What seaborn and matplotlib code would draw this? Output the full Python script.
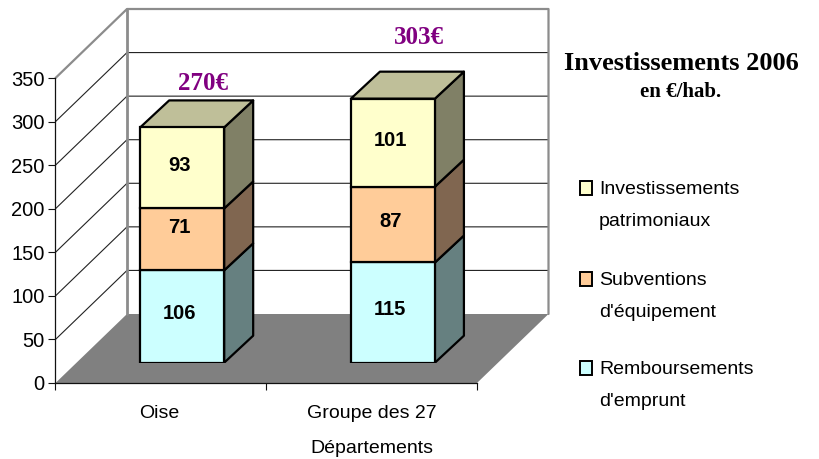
import matplotlib
matplotlib.use("Agg")
import matplotlib.pyplot as plt
from matplotlib.patches import Polygon, Rectangle
import pandas as pd
import seaborn as sns

# Données
departements = ["Oise", "Groupe des 27"]
remboursements = [106, 115]
subventions = [71, 87]
investissements = [93, 101]
totaux = ["270€", "303€"]
y_ticks = [0, 50, 100, 150, 200, 250, 300, 350]
legende = [("Investissements", "patrimoniaux"), ("Subventions", "d'équipement"), ("Remboursements", "d'emprunt")]

W, H = 819, 459
X0, X1, Y0, Y350 = 55.5, 477.0, 383.0, 78.0
MUR_DX, MUR_DY = 71.5, 69.0
BARRE_DX, BARRE_DY = 21.3, 20.3
PROF_DX, PROF_DY = 29.0, 27.0
LARGEUR = 84.0 / ((X1 - X0) / 2)
SANS = "Liberation Sans"
SERIF = "Liberation Serif"
TAILLE = 14.5
TAILLE_TEXTE = 14

sns.set_theme(style="white")
plt.rcParams["font.family"] = SANS

fig = plt.figure(figsize=(W / 100, H / 100), dpi=100, facecolor="white")


def zone(dx=0.0, dy=0.0, z=1):
    a = fig.add_axes([(X0 + dx) / W, (H - Y0 + dy) / H, (X1 - X0) / W, (Y0 - Y350) / H], zorder=z)
    a.set_xlim(-0.5, 1.5)
    a.set_ylim(0, 350)
    a.patch.set_alpha(0)
    return a


# Fond en coordonnées pixels : murs, sol, textes
fond = fig.add_axes([0, 0, 1, 1], zorder=0)
fond.set_xlim(0, W)
fond.set_ylim(H, 0)
fond.axis("off")

px = (Y0 - Y350) / 350
fond.add_patch(Polygon([(X0, Y0), (X1, Y0), (X1 + MUR_DX, Y0 - MUR_DY), (X0 + MUR_DX, Y0 - MUR_DY)],
                       facecolor="#808080", edgecolor="none"))
for v in y_ticks[1:-1]:
    y = Y0 - v * px
    fond.plot([X0, X0 + MUR_DX, X1 + MUR_DX], [y, y - MUR_DY, y - MUR_DY], color="#222222", lw=0.8)
gris = "#8c8c8c"
fond.plot([X0, X0 + MUR_DX, X1 + MUR_DX, X1 + MUR_DX],
          [Y350, Y350 - MUR_DY, Y350 - MUR_DY, Y0 - MUR_DY], color=gris, lw=1.6)
fond.plot([X0 + MUR_DX, X0 + MUR_DX], [Y350 - MUR_DY, Y0 - MUR_DY], color=gris, lw=2.0)

# Axes principaux
ax = zone(z=1)
ax.set_yticks(y_ticks)
ax.set_xticks([-0.5, 0.5, 1.5])
ax.set_xticklabels([])
ax.tick_params(axis="both", length=5, width=0.8, color="#111111", left=True, bottom=True, pad=3)
ax.tick_params(axis="y", labelsize=TAILLE, labelcolor="black")
for nom, sp in ax.spines.items():
    sp.set_visible(nom in ("left", "bottom"))
    sp.set_color("#111111")
    sp.set_linewidth(0.9)

# Barres empilées
barres = zone(BARRE_DX, BARRE_DY, z=2)
barres.axis("off")
table = pd.DataFrame({"dep": departements, "r": remboursements, "s": subventions, "i": investissements})
table["base_s"] = table["r"]
table["base_i"] = table["r"] + table["s"]
series = [
    ("r", None, "#CCFFFF", "#668080"),
    ("s", "base_s", "#FFCC99", "#806650"),
    ("i", "base_i", "#FFFFCC", "#808066"),
]
for col, base, face, cote in series:
    bas = table[base] if base else [0, 0]
    sns.barplot(data=table, x="dep", y=col, bottom=bas, order=departements, color=face, saturation=1,
                width=LARGEUR, edgecolor="black", linewidth=1.6, ax=barres, zorder=3)
barres.set_xlim(-0.5, 1.5)
barres.set_ylim(0, 350)

ddx = PROF_DX / ((X1 - X0) / 2)
ddy = PROF_DY / px
for i in range(len(departements)):
    xd = i + LARGEUR / 2
    xg = i - LARGEUR / 2
    for col, base, face, cote in series:
        b = table[base][i] if base else 0
        h = b + table[col][i]
        # le 71 est placé plus haut que le milieu du segment
        decale = 14 if table[col][i] == 71 else 3
        barres.add_patch(Polygon([(xd, b), (xd + ddx, b + ddy), (xd + ddx, h + ddy), (xd, h)],
                                 facecolor=cote, edgecolor="black", lw=1.6, zorder=2, joinstyle="round"))
        barres.text(i - 0.012, b + (h - b) / 2 + decale, str(table[col][i]), ha="center", va="center",
                    fontsize=TAILLE, fontweight="bold", color="black", zorder=5, family=SANS)
    barres.add_patch(Polygon([(xg, h), (xd, h), (xd + ddx, h + ddy), (xg + ddx, h + ddy)],
                             facecolor="#BFBF99", edgecolor="black", lw=1.6, zorder=2, joinstyle="round"))

# Textes et légende, par-dessus
dessus = fig.add_axes([0, 0, 1, 1], zorder=3)
dessus.set_xlim(0, W)
dessus.set_ylim(H, 0)
dessus.axis("off")

dessus.text(159, 418.5, departements[0], ha="center", va="baseline", fontsize=TAILLE_TEXTE, color="black")
dessus.text(371.6, 418.5, departements[1], ha="center", va="baseline", fontsize=TAILLE_TEXTE, color="black")
dessus.text(371.6, 453, "Départements", ha="center", va="baseline", fontsize=TAILLE_TEXTE, color="black")

dessus.text(202.7, 90, totaux[0], ha="center", va="baseline", fontsize=18, fontweight="bold", color="#800080", family=SERIF)
dessus.text(419, 44, totaux[1], ha="center", va="baseline", fontsize=18, fontweight="bold", color="#800080", family=SERIF)

dessus.text(681, 70.5, "Investissements 2006", ha="center", va="baseline", fontsize=19, fontweight="bold", color="black", family=SERIF)
dessus.text(681, 97, "en €/hab.", ha="center", va="baseline", fontsize=15, fontweight="bold", color="black", family=SERIF)

couleurs = [series[2][2], series[1][2], series[0][2]]
y_carre = [181, 271.5, 360.5]
y_leg = [(194, 225.5), (285, 317), (374, 406)]
for (l1, l2), c, yc, (y1, y2) in zip(legende, couleurs, y_carre, y_leg):
    dessus.add_patch(Rectangle((580, yc), 11.5, 14, facecolor=c, edgecolor="black", lw=1.4))
    dessus.text(599, y1, l1, ha="left", va="baseline", fontsize=TAILLE_TEXTE, color="black")
    dessus.text(599, y2, l2, ha="left", va="baseline", fontsize=TAILLE_TEXTE, color="black")

plt.savefig("out.png", dpi=100)
plt.close()
